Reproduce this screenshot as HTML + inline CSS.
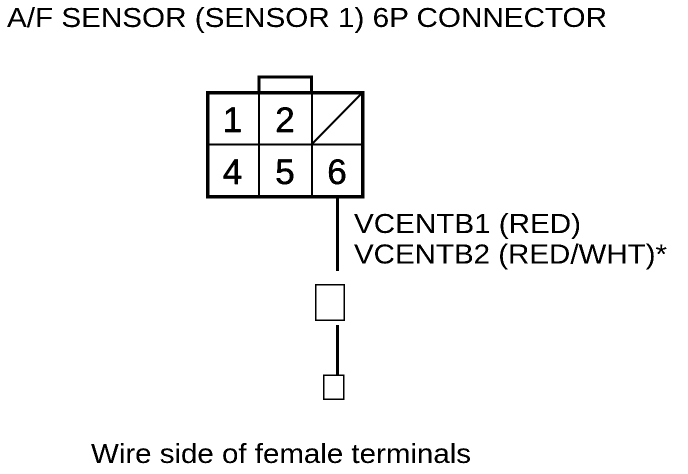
<!DOCTYPE html>
<html>
<head>
<meta charset="utf-8">
<style>
html,body{margin:0;padding:0;background:#fff;}
svg{display:block;}
text{font-family:"Liberation Sans",sans-serif;fill:#000;}
</style>
</head>
<body>
<svg width="688" height="474" viewBox="0 0 688 474" xmlns="http://www.w3.org/2000/svg">
<defs>
<filter id="crisp" x="0" y="0" width="100%" height="100%" filterUnits="userSpaceOnUse" primitiveUnits="userSpaceOnUse">
<feComponentTransfer>
<feFuncA type="linear" slope="3" intercept="-0.75"/>
</feComponentTransfer>
</filter>
</defs>
<rect width="688" height="474" fill="#fff"/>
<g filter="url(#crisp)">
<text x="7" y="27" font-size="28" textLength="600" lengthAdjust="spacingAndGlyphs">A/F SENSOR (SENSOR 1) 6P CONNECTOR</text>
<g font-size="35" text-anchor="middle" stroke="#000" stroke-width="0.5">
<text x="232.500" y="132">1</text>
<text x="285" y="132">2</text>
<text x="232.500" y="184">4</text>
<text x="285" y="184">5</text>
<text x="337" y="184">6</text>
</g>
<text x="354" y="233" font-size="28" textLength="227" lengthAdjust="spacingAndGlyphs">VCENTB1 (RED)</text>
<text x="354" y="263.500" font-size="28" textLength="313" lengthAdjust="spacingAndGlyphs">VCENTB2 (RED/WHT)*</text>
<text x="91" y="463" font-size="28" textLength="380" lengthAdjust="spacingAndGlyphs">Wire side of female terminals</text>
</g>
<g fill="none" stroke="#000" shape-rendering="crispEdges">
<rect x="207.500" y="92.500" width="155" height="104" stroke-width="3.500"/>
<path d="M259 91V77H311.500V91" stroke-width="3"/>
<path d="M259 92V196M312 92V196M207 144.500H363" stroke-width="2"/>
<path d="M337.500 198V271" stroke-width="3"/>
<rect x="315.500" y="284.500" width="28.500" height="35.500" stroke-width="1.500"/>
<path d="M337.500 325V375" stroke-width="3"/>
<rect x="323.500" y="375" width="20" height="24" stroke-width="1.500"/>
</g>
<path d="M312 144L362 93" fill="none" stroke="#000" stroke-width="2"/>
</svg>
</body>
</html>
